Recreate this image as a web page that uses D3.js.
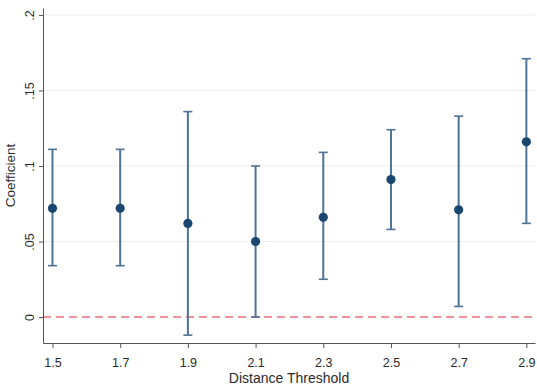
<!DOCTYPE html>
<html>
<head>
<meta charset="utf-8">
<script src="https://cdn.jsdelivr.net/npm/d3@7"></script>
<style>
  body { margin: 0; background: #fff; }
  text { font-family: "Liberation Sans", Arial, sans-serif; fill: #2b2b2b; }
</style>
</head>
<body>
<div id="chart-container"></div>
<script>
// coefficient plot by distance threshold
var thresholds = [1.5, 1.7, 1.9, 2.1, 2.3, 2.5, 2.7, 2.9];
var coef  = [0.072, 0.072, 0.062, 0.050, 0.066, 0.091, 0.071, 0.116];
var lower = [0.034, 0.034, -0.012, 0.000, 0.025, 0.058, 0.007, 0.062];
var upper = [0.111, 0.111, 0.136, 0.100, 0.109, 0.124, 0.133, 0.171];
var yTicks = [0, 0.05, 0.1, 0.15, 0.2];
var yTickLabels = ["0", ".05", ".1", ".15", ".2"];

var margin = {top: 8, right: 2, bottom: 46, left: 43},
    width = 537 - margin.left - margin.right,
    height = 389 - margin.top - margin.bottom;

var x = d3.scaleLinear().domain([1.472, 2.9255]).range([0, width]);
var y = d3.scaleLinear().domain([-0.0172, 0.2046]).range([height, 0]);

var svg = d3.select("#chart-container")
    .append("svg")
    .attr("width", 537)
    .attr("height", 389)
    .append("g")
    .attr("transform", `translate(${margin.left},${margin.top})`);

// gridlines
svg.selectAll(".grid")
    .data(yTicks.filter(function(d) { return d != 0; }))
    .enter().append("line")
    .attr("x1", 0)
    .attr("x2", width)
    .attr("y1", function(d) { return y(d); })
    .attr("y2", function(d) { return y(d); })
    .style("stroke", "#ececec")
    .style("stroke-width", 1);

// zero reference line
svg.append("line")
    .attr("x1", 0)
    .attr("x2", width)
    .attr("y1", y(0))
    .attr("y2", y(0))
    .style("stroke", "#e8707a")
    .style("stroke-width", 1.6)
    .style("stroke-dasharray", "8,5");

var xAxis = d3.axisBottom(x).tickValues(thresholds).tickSize(5).tickSizeOuter(0)
    .tickFormat(d3.format(".1f"));
var yAxis = d3.axisLeft(y).tickValues(yTicks).tickSize(4).tickSizeOuter(0)
    .tickFormat(function(d, i) { return yTickLabels[i]; });

var gx = svg.append("g")
    .attr("transform", `translate(0,${height})`)
    .call(xAxis);
gx.selectAll("text").style("font-size", "12.5px").attr("dy", "0.95em").attr("y", 12);

var gy = svg.append("g").call(yAxis);
gy.selectAll("text")
    .style("font-size", "12.5px")
    .style("text-anchor", "middle")
    .attr("transform", "rotate(-90)")
    .attr("x", 0)
    .attr("y", -9)
    .attr("dy", 0);

svg.selectAll(".domain, .tick line").style("stroke", "#555");

// error bars
var bars = svg.selectAll(".ci")
    .data(thresholds)
    .enter().append("g");

bars.append("line")
    .attr("x1", function(d) { return x(d); })
    .attr("x2", function(d) { return x(d); })
    .attr("y1", function(d, i) { return y(lower[i]); })
    .attr("y2", function(d, i) { return y(upper[i]); })
    .style("stroke", "#4f7397")
    .style("stroke-width", 2);

[lower, upper].forEach(function(arr) {
  bars.append("line")
    .attr("x1", function(d) { return x(d) - 4.5; })
    .attr("x2", function(d) { return x(d) + 4.5; })
    .attr("y1", function(d, i) { return y(arr[i]); })
    .attr("y2", function(d, i) { return y(arr[i]); })
    .style("stroke", "#4f7397")
    .style("stroke-width", 1.6);
});

svg.selectAll(".pt")
    .data(thresholds)
    .enter().append("circle")
    .attr("cx", function(d) { return x(d); })
    .attr("cy", function(d, i) { return y(coef[i]); })
    .attr("r", 4.6)
    .style("fill", "#1a476f");

// axis titles
svg.append("text")
    .attr("x", width / 2)
    .attr("y", height + 39.5)
    .attr("text-anchor", "middle")
    .style("font-size", "14px")
    .text("Distance Threshold");

svg.append("text")
    .attr("transform", "rotate(-90)")
    .attr("x", -height / 2)
    .attr("y", -28)
    .attr("text-anchor", "middle")
    .style("font-size", "13.5px")
    .text("Coefficient");
</script>
</body>
</html>
